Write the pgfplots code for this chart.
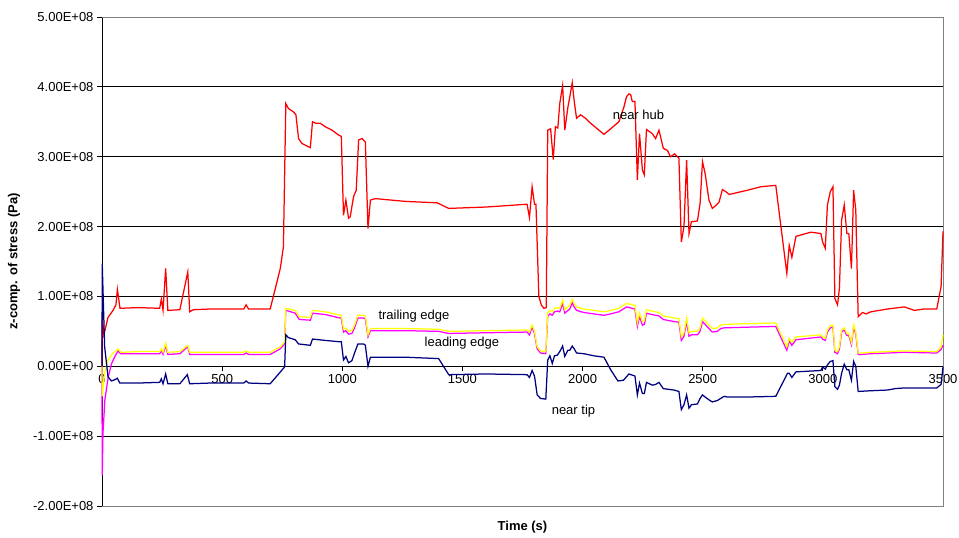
\documentclass[border=0pt]{standalone}
\usepackage{pgfplots}
\pgfplotsset{compat=1.18}
\usepackage{fontspec}
\setmainfont{Liberation Sans}
\definecolor{navyc}{RGB}{0,0,128}
\definecolor{yell}{RGB}{255,255,0}
\definecolor{mag}{RGB}{255,0,255}
\begin{document}
\begin{tikzpicture}
\useasboundingbox (-102bp,-32bp) rectangle (857bp,506bp);
\begin{axis}[
  scale only axis, width=841bp, height=489bp,
  xmin=0, xmax=3500, ymin=-2, ymax=5,
  axis x line=middle, axis y line=left,
  axis line style={-, black, line width=0.75bp},
  hide obscured x ticks=false,
  xtick={0,500,1000,1500,2000,2500,3000,3500},
  xticklabels={0,500,1000,1500,2000,2500,3000,3500},
  ytick={-2,-1,0,1,2,3,4,5},
  yticklabels={-2.00E+08,-1.00E+08,0.00E+00,1.00E+08,2.00E+08,3.00E+08,4.00E+08,5.00E+08},
  ymajorgrids, major grid style={black, line width=0.75bp},
  tick align=outside, major tick length=5bp,
  tick style={black, line width=0.75bp},
  tick label style={font=\fontsize{13bp}{15bp}\selectfont},
  xlabel={Time (s)}, ylabel={z-comp. of stress (Pa)},
  every axis x label/.style={at={(axis description cs:0.5,0)}, yshift=-21bp, anchor=center, font=\fontsize{13bp}{15bp}\selectfont\bfseries},
  every axis y label/.style={at={(axis description cs:0,0.5)}, xshift=-88bp, rotate=90, anchor=center, font=\fontsize{13bp}{15bp}\selectfont\bfseries},
  clip=false,
]
\draw[gray, line width=0.75bp] (rel axis cs:0,0) -- (rel axis cs:1,0) -- (rel axis cs:1,1) -- (rel axis cs:0,1);
% near hub
\addplot[red, line width=1.25bp, mark=none] coordinates {
(0,0) (1,0.68) (8,0.45) (25,0.70) (46,0.80) (58,0.88) (64,1.10) (75,0.83) (150,0.84) (240,0.83) (247,0.96) (254,0.80) (265,1.40) (274,0.80) (324,0.81) (357,1.35) (365,0.78) (380,0.81) (450,0.82) (590,0.82) (600,0.88) (610,0.82) (700,0.82) (742,1.40) (755,1.71) (765,3.76) (776,3.69) (797,3.64) (807,3.60) (818,3.26) (832,3.19) (867,3.13) (876,3.50) (889,3.48) (908,3.48) (929,3.43) (957,3.38) (985,3.31) (996,3.29) (1005,2.16) (1015,2.38) (1026,2.12) (1033,2.14) (1047,2.43) (1058,2.52) (1068,3.24) (1082,3.26) (1096,3.21) (1107,1.97) (1117,2.38) (1138,2.40) (1263,2.36) (1395,2.34) (1443,2.26) (1600,2.28) (1769,2.32) (1779,2.13) (1790,2.57) (1800,2.32) (1806,2.32) (1818,1.00) (1828,0.88) (1839,0.83) (1849,0.84) (1855,3.38) (1867,3.40) (1878,2.96) (1887,3.43) (1897,3.41) (1905,3.76) (1917,4.02) (1926,3.38) (1939,3.71) (1947,3.86) (1957,4.06) (1965,3.80) (1975,3.55) (1992,3.60) (2012,3.55) (2033,3.48) (2061,3.40) (2089,3.32) (2117,3.40) (2151,3.50) (2158,3.57) (2172,3.71) (2183,3.86) (2193,3.90) (2200,3.89) (2207,3.79) (2218,3.79) (2228,2.67) (2237,3.33) (2249,2.81) (2257,2.74) (2266,3.39) (2290,3.33) (2304,3.26) (2318,3.38) (2336,3.12) (2353,3.09) (2366,3.00) (2383,3.04) (2401,2.98) (2411,1.78) (2422,2.00) (2433,2.95) (2443,1.90) (2453,2.07) (2478,2.08) (2489,2.33) (2499,2.93) (2510,2.76) (2526,2.38) (2540,2.26) (2554,2.30) (2568,2.35) (2582,2.53) (2596,2.50) (2610,2.46) (2686,2.52) (2742,2.57) (2804,2.59) (2850,1.33) (2860,1.73) (2871,1.56) (2888,1.86) (2950,1.92) (2992,1.90) (2999,1.78) (3010,1.69) (3019,2.31) (3031,2.50) (3042,2.57) (3050,0.97) (3061,0.88) (3069,1.12) (3078,2.09) (3089,2.31) (3100,1.90) (3108,1.90) (3119,1.40) (3128,2.52) (3137,2.24) (3147,0.71) (3165,0.77) (3180,0.75) (3200,0.78) (3269,0.82) (3339,0.85) (3381,0.80) (3420,0.82) (3474,0.82) (3492,1.14) (3500,1.93)
};
% leading edge
\addplot[mag, line width=1.25bp, mark=none] coordinates {
(0,0) (1,-1.56) (4,-0.96) (12,-0.48) (26,-0.15) (40,0.04) (55,0.15) (67,0.22) (78,0.18) (150,0.18) (240,0.18) (247,0.22) (254,0.17) (265,0.30) (274,0.17) (324,0.18) (357,0.28) (365,0.17) (450,0.17) (590,0.17) (600,0.19) (610,0.17) (700,0.17) (742,0.25) (760,0.32) (765,0.80) (776,0.79) (804,0.76) (821,0.67) (867,0.66) (876,0.76) (930,0.74) (992,0.69) (996,0.69) (1005,0.49) (1015,0.51) (1026,0.46) (1040,0.47) (1051,0.55) (1065,0.69) (1089,0.69) (1096,0.68) (1107,0.42) (1117,0.51) (1263,0.51) (1401,0.50) (1443,0.47) (1600,0.48) (1769,0.49) (1779,0.45) (1790,0.56) (1800,0.47) (1811,0.25) (1825,0.19) (1847,0.18) (1855,0.72) (1864,0.75) (1874,0.73) (1883,0.78) (1895,0.79) (1905,0.78) (1917,0.90) (1926,0.76) (1939,0.80) (1947,0.82) (1957,0.91) (1965,0.85) (1975,0.80) (2005,0.77) (2047,0.75) (2089,0.73) (2117,0.75) (2151,0.78) (2183,0.85) (2207,0.83) (2218,0.82) (2228,0.57) (2237,0.71) (2249,0.59) (2257,0.60) (2266,0.76) (2290,0.74) (2318,0.72) (2336,0.67) (2366,0.65) (2401,0.63) (2411,0.37) (2422,0.43) (2433,0.64) (2443,0.43) (2453,0.45) (2478,0.45) (2489,0.50) (2499,0.64) (2510,0.60) (2526,0.54) (2540,0.49) (2561,0.50) (2575,0.54) (2589,0.55) (2686,0.56) (2804,0.57) (2850,0.23) (2860,0.36) (2871,0.30) (2888,0.38) (2992,0.42) (2999,0.39) (3010,0.37) (3019,0.49) (3031,0.55) (3042,0.56) (3050,0.20) (3061,0.18) (3069,0.25) (3078,0.49) (3089,0.52) (3100,0.44) (3108,0.44) (3119,0.31) (3128,0.56) (3137,0.46) (3147,0.17) (3165,0.17) (3200,0.18) (3269,0.19) (3339,0.20) (3474,0.19) (3492,0.24) (3500,0.30)
};
% trailing edge
\addplot[yell, line width=1.25bp, mark=none] coordinates {
(0,0) (1,-0.43) (11,-0.10) (25,0.09) (46,0.19) (58,0.22) (67,0.25) (78,0.20) (150,0.21) (240,0.21) (247,0.25) (254,0.20) (265,0.33) (274,0.20) (324,0.21) (357,0.30) (365,0.20) (450,0.20) (590,0.20) (600,0.22) (610,0.20) (700,0.20) (742,0.28) (760,0.35) (765,0.83) (776,0.82) (804,0.80) (821,0.71) (867,0.70) (876,0.80) (930,0.78) (992,0.73) (996,0.73) (1005,0.53) (1015,0.55) (1026,0.50) (1040,0.51) (1051,0.59) (1065,0.73) (1089,0.73) (1096,0.72) (1107,0.45) (1117,0.54) (1263,0.54) (1401,0.53) (1443,0.50) (1600,0.51) (1769,0.52) (1779,0.49) (1790,0.59) (1800,0.50) (1811,0.28) (1825,0.22) (1847,0.21) (1855,0.77) (1864,0.80) (1874,0.78) (1883,0.83) (1895,0.84) (1905,0.83) (1917,0.95) (1926,0.81) (1939,0.85) (1947,0.87) (1957,0.96) (1965,0.90) (1975,0.85) (2005,0.82) (2047,0.80) (2089,0.78) (2117,0.80) (2151,0.83) (2183,0.90) (2207,0.88) (2218,0.87) (2228,0.62) (2237,0.76) (2249,0.64) (2257,0.65) (2266,0.81) (2290,0.79) (2318,0.77) (2336,0.72) (2366,0.70) (2401,0.68) (2411,0.42) (2422,0.48) (2433,0.69) (2443,0.48) (2453,0.50) (2478,0.50) (2489,0.55) (2499,0.69) (2510,0.65) (2526,0.59) (2540,0.54) (2561,0.55) (2575,0.59) (2589,0.60) (2686,0.61) (2804,0.62) (2850,0.28) (2860,0.40) (2871,0.34) (2888,0.42) (2992,0.45) (2999,0.42) (3010,0.40) (3019,0.52) (3031,0.58) (3042,0.59) (3050,0.23) (3061,0.21) (3069,0.28) (3078,0.52) (3089,0.55) (3100,0.47) (3108,0.47) (3119,0.34) (3128,0.59) (3137,0.49) (3147,0.19) (3165,0.19) (3200,0.20) (3269,0.21) (3339,0.22) (3474,0.21) (3492,0.28) (3500,0.45)
};
% near tip
\addplot[navyc, line width=1.25bp, mark=none] coordinates {
(0,0) (1,1.47) (11,0.28) (25,-0.15) (39,-0.21) (55,-0.19) (64,-0.17) (74,-0.24) (150,-0.24) (240,-0.23) (247,-0.18) (254,-0.25) (265,-0.11) (274,-0.25) (324,-0.25) (355,-0.12) (365,-0.25) (450,-0.24) (590,-0.24) (600,-0.21) (610,-0.24) (700,-0.25) (760,-0.01) (765,0.45) (776,0.41) (804,0.38) (818,0.32) (867,0.30) (876,0.39) (930,0.37) (992,0.35) (996,0.35) (1005,0.09) (1015,0.14) (1026,0.05) (1040,0.08) (1051,0.19) (1065,0.32) (1089,0.32) (1096,0.30) (1107,0.00) (1117,0.13) (1263,0.13) (1401,0.11) (1443,-0.12) (1600,-0.11) (1769,-0.12) (1779,-0.16) (1790,-0.06) (1800,-0.14) (1811,-0.41) (1825,-0.46) (1847,-0.47) (1855,0.09) (1864,0.15) (1874,0.04) (1883,0.15) (1895,0.16) (1905,0.21) (1917,0.29) (1926,0.14) (1939,0.23) (1947,0.23) (1957,0.29) (1965,0.25) (1975,0.19) (2005,0.18) (2047,0.15) (2089,0.13) (2117,-0.05) (2147,-0.21) (2170,-0.20) (2193,-0.11) (2218,-0.14) (2228,-0.41) (2237,-0.24) (2249,-0.39) (2257,-0.39) (2266,-0.23) (2290,-0.27) (2304,-0.26) (2318,-0.23) (2336,-0.32) (2380,-0.34) (2401,-0.36) (2411,-0.62) (2422,-0.55) (2433,-0.41) (2443,-0.60) (2453,-0.55) (2478,-0.54) (2489,-0.46) (2499,-0.41) (2510,-0.44) (2526,-0.48) (2540,-0.51) (2561,-0.49) (2575,-0.46) (2589,-0.43) (2603,-0.44) (2686,-0.44) (2804,-0.43) (2853,-0.10) (2860,-0.10) (2871,-0.16) (2888,-0.08) (2992,-0.06) (2999,-0.01) (3010,-0.04) (3019,0.02) (3031,0.07) (3042,0.08) (3050,-0.29) (3061,-0.33) (3069,-0.27) (3078,-0.10) (3089,0.03) (3100,-0.05) (3108,-0.05) (3119,-0.20) (3128,0.07) (3137,0.00) (3147,-0.36) (3200,-0.35) (3269,-0.34) (3300,-0.32) (3339,-0.31) (3474,-0.31) (3492,-0.26) (3500,-0.01)
};
\node[anchor=west, font=\fontsize{13bp}{15bp}\selectfont, inner sep=0pt] at (axis cs:2125,3.60) {near hub};
\node[anchor=west, font=\fontsize{13bp}{15bp}\selectfont, inner sep=0pt] at (axis cs:1150,0.72) {trailing edge};
\node[anchor=west, font=\fontsize{13bp}{15bp}\selectfont, inner sep=0pt] at (axis cs:1342,0.33) {leading edge};
\node[anchor=west, font=\fontsize{13bp}{15bp}\selectfont, inner sep=0pt] at (axis cs:1871,-0.64) {near tip};
\end{axis}
\end{tikzpicture}
\end{document}
